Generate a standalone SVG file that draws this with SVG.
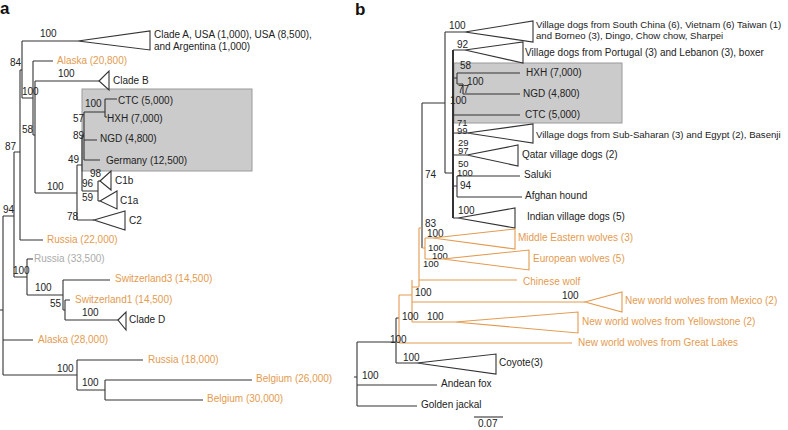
<svg xmlns="http://www.w3.org/2000/svg" width="788" height="430" viewBox="0 0 788 430">
<style>
.ln{stroke:#333;stroke-width:1.1;fill:none}
.bk{stroke:#333;stroke-width:2;fill:none}
.or{stroke:#E39B50;stroke-width:1.1;fill:none}
.tri{fill:#fff;stroke:#333;stroke-width:1.1}
.trio{fill:#fff;stroke:#E39B50;stroke-width:1.1}
.box{fill:#cbcbcb;stroke:#9a9a9a;stroke-width:1}
text{font-family:"Liberation Sans",Arial,sans-serif;font-size:10px;fill:#222}
.s{font-size:9.5px}
.w{font-size:9.6px}
.o{fill:#E39B50}
.g{fill:#ababab}
.hd{font-size:17px;font-weight:bold;fill:#111}
</style>
<rect width="788" height="430" fill="#fff"/>
<text class="hd" x="0" y="14">a</text>
<text class="hd" x="355" y="15">b</text>
<rect id="boxA" class="box" x="82" y="89" width="170" height="82"/>
<rect id="boxB" class="box" x="454" y="63" width="168" height="60"/>
<g id="connectors">
<path class="ln" d="M0,310H3M3,216V375M3,216H14M3,340H33M3,375H77M77,360V390M77,360H143M77,390H105M105,380V400M105,380H252M105,400H203M14,152V277M14,152H20M14,277H27M27,259V295M27,259H33M27,295H63M63,280V310M63,280H110M63,310H65M65,300V320M65,300H70M65,320H118M20,70V240M20,70H22M20,240H43M22,41V98M22,41H78M22,98H33M33,61V135M33,61H53M33,135H35M35,81V193M35,81H99M35,193H77M77,165V220M77,165H82M77,220H94M82,136V191M82,136H84M82,191H98M98,181V201M98,181H100M98,201H100M84,112V160M84,112H105M84,140H97M84,160H100M105,99V117M105,99H117M105,117H107"/>
<path class="ln" d="M354,377H357M357,342V406M357,342H396M357,385H437M357,406H417M396,318V363M396,318H399M396,363H417M422,103V248M422,103H445M445,32V173M445,32H465M445,173H453M453,50H465M453,78H457M457,73V84M457,73H520M457,84H463M463,84V94M463,94H520M453,115H520M453,133H467M453,155H467M453,186H457M457,176V197M457,176H520M457,197H522M453,218H458"/>
<path class="bk" d="M453,50V218"/>
<path class="or" d="M399,295V343M399,295H412M399,343H572M412,280V322M412,287H419M419,228V287M419,228H422M419,280H517M412,302H585M412,322H455M422,248H425M425,238V259M425,238H433M425,259H443"/>
<path class="ln" d="M474,417H503"/>
</g>
<g id="supports">
<text x="40" y="37">100</text>
<text x="10" y="66">84</text>
<text x="58" y="77">100</text>
<text x="22" y="95">100</text>
<text x="22" y="133">58</text>
<text x="5" y="150">87</text>
<text x="85" y="107">100</text>
<text x="73" y="122">57</text>
<text x="73" y="139">89</text>
<text x="68" y="163">49</text>
<text x="90" y="177">98</text>
<text x="82" y="187">96</text>
<text x="47" y="190">100</text>
<text x="82" y="201">59</text>
<text x="67" y="220">78</text>
<text x="3" y="213">94</text>
<text x="13" y="274">100</text>
<text x="35" y="291">100</text>
<text x="50" y="307">55</text>
<text x="82" y="316">100</text>
<text x="57" y="372">100</text>
<text x="82" y="386">100</text>
<text x="449" y="29">100</text>
<text x="457" y="48">92</text>
<text x="460" y="69">58</text>
<text x="467" y="85">100</text>
<text x="458" y="93">77</text>
<text x="450" y="104">100</text>
<text class="s" x="457" y="126">71</text>
<text class="s" x="457" y="134">99</text>
<text class="s" x="458" y="146">29</text>
<text class="s" x="458" y="154">97</text>
<text class="s" x="458" y="167">50</text>
<text class="s" x="457" y="176">100</text>
<text x="460" y="189">94</text>
<text x="458" y="214">100</text>
<text x="425" y="178">74</text>
<text x="425" y="227">83</text>
<text x="427" y="237">100</text>
<text class="s" x="428" y="251">100</text>
<text class="s" x="432" y="259">100</text>
<text class="s" x="423" y="267">100</text>
<text x="415" y="296">100</text>
<text x="562" y="299">100</text>
<text x="402" y="320">100</text>
<text x="427" y="320">100</text>
<text x="390" y="343">100</text>
<text x="403" y="361">100</text>
<text x="362" y="379">100</text>
</g>
<g id="cladeA"><path class="tri" d="M78,41L150,31V50Z"/><text x="154" y="38">Clade A, USA (1,000), USA (8,500),</text><text x="154" y="50">and Argentina (1,000)</text></g>
<g id="alaska20800"><text class="o" x="57" y="64">Alaska (20,800)</text></g>
<g id="cladeB"><path class="tri" d="M99,81L109,71V90Z"/><text x="113" y="84">Clade B</text></g>
<g id="ctcA"><text x="118" y="104">CTC (5,000)</text></g>
<g id="hxhA"><text x="107" y="122">HXH (7,000)</text></g>
<g id="ngdA"><text x="100" y="142">NGD (4,800)</text></g>
<g id="germany"><text x="106" y="164">Germany (12,500)</text></g>
<g id="c1b"><path class="tri" d="M100,181L111,171V190Z"/><text x="115" y="184">C1b</text></g>
<g id="c1a"><path class="tri" d="M100,201L117,191V209Z"/><text x="120" y="204">C1a</text></g>
<g id="c2"><path class="tri" d="M94,220L125,211V230Z"/><text x="129" y="224">C2</text></g>
<g id="russia22000"><text class="o" x="47" y="243">Russia (22,000)</text></g>
<g id="russia33500"><text class="g" x="34" y="262">Russia (33,500)</text></g>
<g id="switzerland3"><text class="o" x="115" y="282">Switzerland3 (14,500)</text></g>
<g id="switzerland1"><text class="o" x="75" y="303">Switzerland1 (14,500)</text></g>
<g id="cladeD"><path class="tri" d="M118,320L126,312V330Z"/><text x="129" y="323">Clade D</text></g>
<g id="alaska28000"><text class="o" x="38" y="343">Alaska (28,000)</text></g>
<g id="russia18000"><text class="o" x="148" y="363">Russia (18,000)</text></g>
<g id="belgium26000"><text class="o" x="256" y="382">Belgium (26,000)</text></g>
<g id="belgium30000"><text class="o" x="207" y="402">Belgium (30,000)</text></g>
<g id="southChina"><path class="tri" d="M465,32L533,21V42Z"/><text class="w" x="536" y="28">Village dogs from South China (6), Vietnam (6) Taiwan (1)</text><text class="w" x="536" y="39">and Borneo (3), Dingo, Chow chow, Sharpei</text></g>
<g id="portugal"><path class="tri" d="M465,50L523,42V63Z"/><text x="525" y="56">Village dogs from Portugal (3) and Lebanon (3), boxer</text></g>
<g id="hxhB"><text x="526" y="76">HXH (7,000)</text></g>
<g id="ngdB"><text x="523" y="97">NGD (4,800)</text></g>
<g id="ctcB"><text x="525" y="118">CTC (5,000)</text></g>
<g id="subSaharan"><path class="tri" d="M467,133L533,124V143Z"/><text class="w" x="536" y="138">Village dogs from Sub-Saharan (3) and Egypt (2), Basenji</text></g>
<g id="qatar"><path class="tri" d="M467,155L518,145V166Z"/><text x="522" y="158">Qatar village dogs (2)</text></g>
<g id="saluki"><text x="524" y="178">Saluki</text></g>
<g id="afghan"><text x="525" y="199">Afghan hound</text></g>
<g id="indian"><path class="tri" d="M458,218L515,208V228Z"/><text x="527" y="220">Indian village dogs (5)</text></g>
<g id="middleEast"><path class="trio" d="M433,238L515,229V249Z"/><text class="o" x="518" y="241">Middle Eastern wolves (3)</text></g>
<g id="european"><path class="trio" d="M443,259L529,250V270Z"/><text class="o" x="533" y="262">European wolves (5)</text></g>
<g id="chinese"><text class="o" x="523" y="285">Chinese wolf</text></g>
<g id="mexico"><path class="trio" d="M585,302L622,292V312Z"/><text class="o" x="625" y="304">New world wolves from Mexico (2)</text></g>
<g id="yellowstone"><path class="trio" d="M455,322L578,312V333Z"/><text class="o" x="582" y="325">New world wolves from Yellowstone (2)</text></g>
<g id="greatLakes"><text class="o" x="578" y="346">New world wolves from Great Lakes</text></g>
<g id="coyote"><path class="tri" d="M417,363L496,354V374Z"/><text x="499" y="366">Coyote(3)</text></g>
<g id="andean"><text x="441" y="387">Andean fox</text></g>
<g id="jackal"><text x="421" y="408">Golden jackal</text></g>
<g id="scale"><text x="478" y="427">0.07</text></g>
</svg>
